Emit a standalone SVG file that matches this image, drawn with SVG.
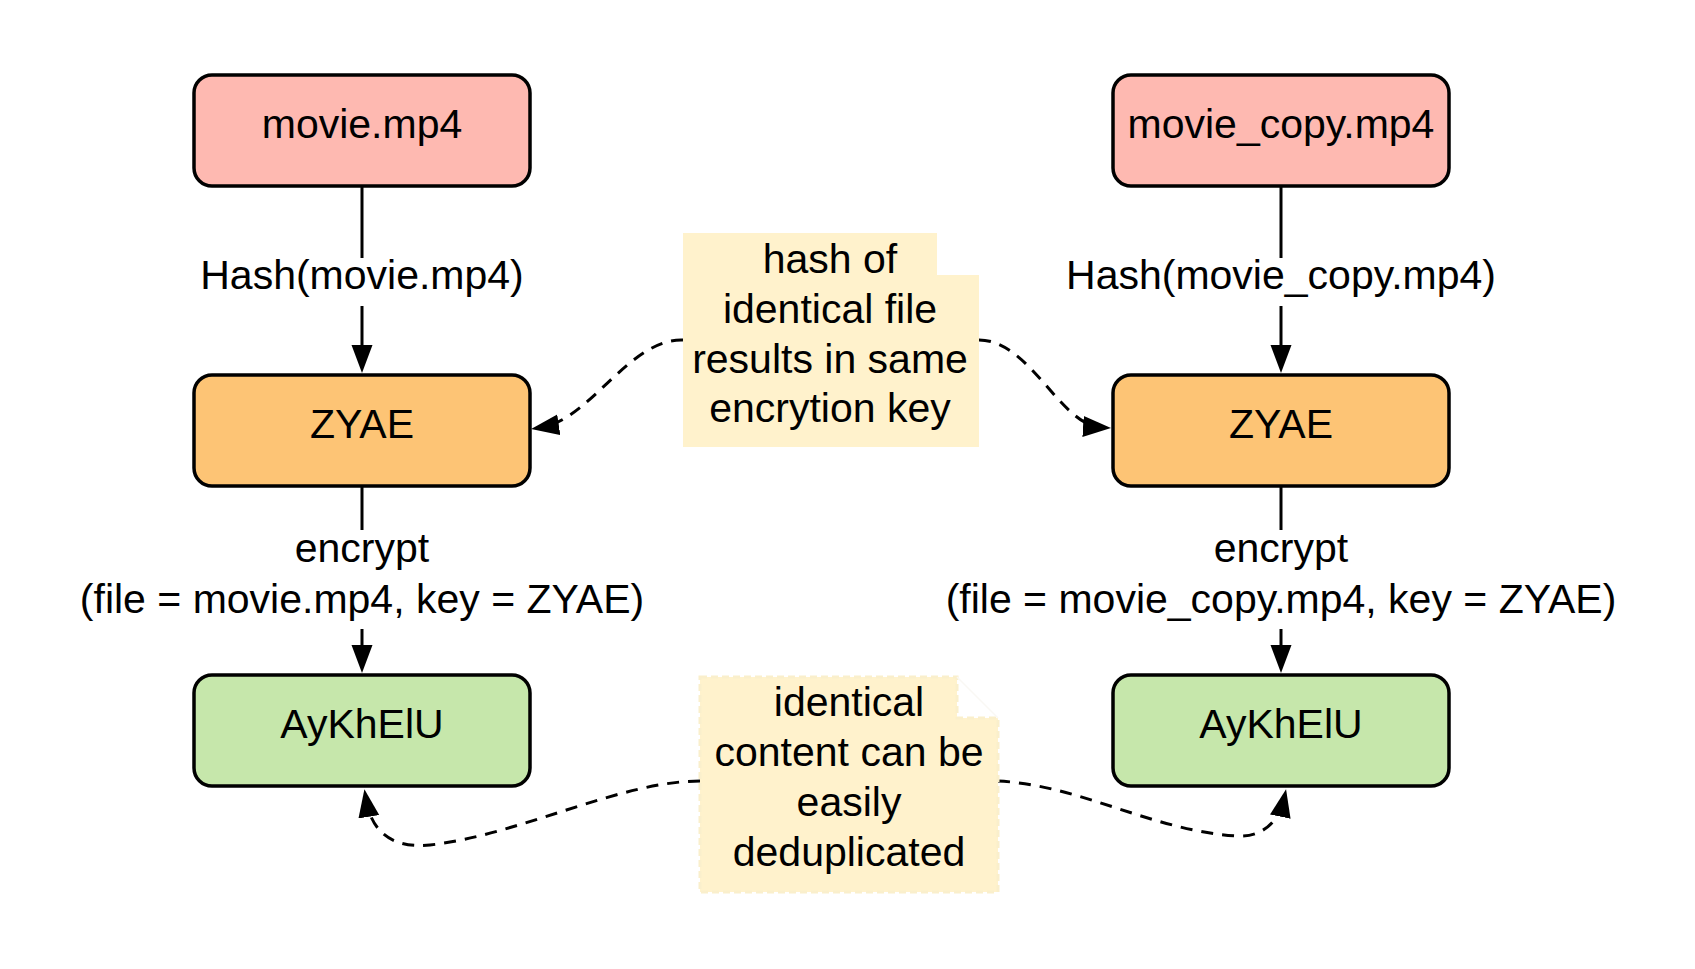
<svg xmlns="http://www.w3.org/2000/svg" width="1695" height="969" viewBox="0 0 1695 969">
<style>
.box{stroke:#000;stroke-width:3.5}
.file{fill:#FEB9B1}
.key{fill:#FDC475}
.enc{fill:#C6E7AB}
.note{fill:#FFF2CC}
.t{font-family:"Liberation Sans",Arial,sans-serif;font-size:41px;fill:#000;text-anchor:middle}
.edge{fill:none;stroke:#000;stroke-width:3}
.dash{fill:none;stroke:#000;stroke-width:3;stroke-dasharray:12 9}
.lblbg{fill:#fff}
</style>
<defs>
<marker id="arr" markerUnits="userSpaceOnUse" markerWidth="30" markerHeight="22" refX="18" refY="10.5" orient="auto">
<path d="M0,0 L28,10.5 L0,21 z" fill="#000"/>
</marker>
</defs>
<rect width="1695" height="969" fill="#fff"/>

<g id="connectors">
<path class="edge" d="M362,187 L362,363" marker-end="url(#arr)"/>
<path class="edge" d="M1281,187 L1281,363" marker-end="url(#arr)"/>
<path class="edge" d="M362,487 L362,663" marker-end="url(#arr)"/>
<path class="edge" d="M1281,487 L1281,663" marker-end="url(#arr)"/>
<path class="dash" d="M683,340 C630,338 590,420 541,427.5" marker-end="url(#arr)"/>
<path class="dash" d="M979,340 C1030,340 1060,425 1101,427.5" marker-end="url(#arr)"/>
<path class="dash" d="M700,781 C620,781 520,835 430,845 C390,849 371,830 366,799" marker-end="url(#arr)"/>
<path class="dash" d="M998,781 C1080,785 1150,830 1236,836 C1265,838 1280,818 1284,799" marker-end="url(#arr)"/>
<g id="lbl-hash-left">
<rect class="lblbg" x="192" y="258" width="340" height="48"/>
<text class="t" x="362" y="289">Hash(movie.mp4)</text>
</g>
<g id="lbl-hash-right">
<rect class="lblbg" x="1056" y="258" width="450" height="48"/>
<text class="t" x="1281" y="289">Hash(movie_copy.mp4)</text>
</g>
<g id="lbl-enc-left">
<rect class="lblbg" x="70" y="530" width="584" height="99"/>
<text class="t" x="362" y="562">encrypt</text>
<text class="t" x="362" y="613">(file = movie.mp4, key = ZYAE)</text>
</g>
<g id="lbl-enc-right">
<rect class="lblbg" x="930" y="530" width="702" height="99"/>
<text class="t" x="1281" y="562">encrypt</text>
<text class="t" x="1281" y="613">(file = movie_copy.mp4, key = ZYAE)</text>
</g>
</g>

<g id="movie">
<rect class="box file" x="194" y="75" width="336" height="111" rx="18"/>
<text class="t" x="362" y="138">movie.mp4</text>
</g>
<g id="movie_copy">
<rect class="box file" x="1113" y="75" width="336" height="111" rx="18"/>
<text class="t" x="1281" y="138">movie_copy.mp4</text>
</g>
<g id="key-left">
<rect class="box key" x="194" y="375" width="336" height="111" rx="18"/>
<text class="t" x="362" y="438">ZYAE</text>
</g>
<g id="key-right">
<rect class="box key" x="1113" y="375" width="336" height="111" rx="18"/>
<text class="t" x="1281" y="438">ZYAE</text>
</g>
<g id="enc-left">
<rect class="box enc" x="194" y="675" width="336" height="111" rx="18"/>
<text class="t" x="362" y="738">AyKhElU</text>
</g>
<g id="enc-right">
<rect class="box enc" x="1113" y="675" width="336" height="111" rx="18"/>
<text class="t" x="1281" y="738">AyKhElU</text>
</g>

<g id="note-hash">
<path class="note" d="M683,233 L937,233 L937,275 L979,275 L979,447 L683,447 z"/>
<text class="t" x="830" y="273">hash of</text>
<text class="t" x="830" y="323">identical file</text>
<text class="t" x="830" y="373">results in same</text>
<text class="t" x="830" y="422">encrytion key</text>
</g>
<g id="note-dedup">
<path class="note" d="M700,677 L957,677 L957,718 L998,718 L998,892 L700,892 z" stroke="#FAEFCC" stroke-width="3" stroke-dasharray="7 4"/>
<line x1="957" y1="677" x2="998" y2="718" stroke="#F9F8F4" stroke-width="1.5"/>
<text class="t" x="849" y="716">identical</text>
<text class="t" x="849" y="766">content can be</text>
<text class="t" x="849" y="816">easily</text>
<text class="t" x="849" y="866">deduplicated</text>
</g>
</svg>
